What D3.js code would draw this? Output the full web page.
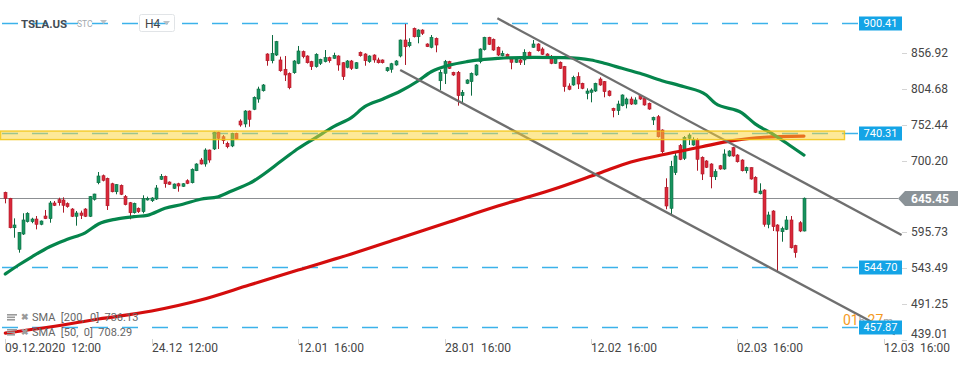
<!DOCTYPE html>
<html>
<head>
<meta charset="utf-8">
<script src="https://cdn.jsdelivr.net/npm/d3@7"></script>
<style>
  body { margin: 0; background: #fff; }
  svg { display: block; font-family: Roboto, "Noto Sans", sans-serif; }
  .axis-label { white-space: pre; }
</style>
</head>
<body>
<svg id="chart" width="970" height="365"></svg>
<script>
// H4 candles, TSLA.US, index 0 = 09.12.2020 12:00
var opens = [654.1,645.3,602.4,570.9,593.2,611.2,611.2,615.1,607.4,619.5,615.6,638.5,643.3,642.9,637.5,629.7,619.1,623.9,629.7,619.1,
  643.8,668.1,678.3,674.5,666.6,654.9,664.3,647.7,638.9,624.3,630.8,625.8,642.9,641.8,644.3,673.1,677.4,669.1,659.9,666.6,
  662.8,671.0,668.1,685.6,701.2,695.4,715.8,717.3,741.6,735.2,725.6,721.7,740.2,758.1,753.8,772.7,775.2,790.2,802.3,855.9,
  846.1,854.4,847.2,833.6,827.7,828.6,842.3,859.3,853.0,844.7,837.4,842.3,844.7,850.5,849.6,853.0,843.2,836.5,845.7,835.0,
  858.4,855.9,844.7,854.4,847.2,847.2,831.5,833.6,839.9,853.0,876.3,868.0,893.4,881.1,890.9,870.5,865.7,878.8,816.9,827.7,
  844.7,829.2,829.2,795.1,813.1,815.5,825.3,844.7,862.2,880.3,877.4,865.7,853.4,855.5,849.6,843.8,847.2,847.2,858.4,865.7,
  870.5,863.2,855.9,852.0,842.3,843.8,837.4,809.2,810.7,822.8,813.1,798.5,800.0,801.9,819.4,815.5,801.9,776.6,773.2,780.5,
  782.9,790.2,782.9,795.1,791.3,784.0,759.6,764.4,745.0,661.4,630.7,682.7,722.1,703.7,732.9,723.1,730.4,705.2,699.8,695.4,
  676.8,692.9,688.1,707.1,719.2,708.5,701.2,685.6,690.0,676.0,652.0,657.4,607.4,626.8,606.4,596.6,600.1,613.7,576.2,609.7,
  597.6];
var highs = [655.0,646.0,616.1,596.0,623.5,625.0,617.0,619.5,613.0,628.3,641.4,641.4,646.2,646.8,639.4,631.0,626.8,627.3,631.0,648.7,
  652.0,683.7,680.0,675.5,668.0,666.0,665.5,650.1,640.0,639.0,632.0,649.7,647.7,647.0,664.7,680.8,678.5,670.0,667.0,668.0,
  667.5,673.1,689.0,696.5,704.1,718.3,716.5,742.5,742.5,737.7,728.0,741.0,741.0,760.6,774.0,773.5,794.0,808.2,812.1,857.0,
  883.6,875.0,852.0,853.0,829.0,847.0,867.6,861.0,854.0,846.0,857.0,849.0,861.7,852.0,857.8,854.0,844.0,847.0,847.2,844.0,
  859.5,857.0,854.0,855.5,850.5,848.0,837.0,843.0,847.0,877.0,899.7,878.8,894.5,892.0,892.0,871.5,883.6,880.0,832.6,847.2,
  846.0,830.0,831.1,803.4,819.0,829.0,841.0,864.2,881.0,881.0,878.5,867.0,860.7,856.5,851.0,849.0,849.6,862.8,859.5,876.3,
  871.5,865.7,857.0,854.4,850.5,845.0,838.5,813.1,824.2,829.2,814.0,805.8,805.8,814.0,821.9,816.5,803.0,777.5,787.8,797.0,
  792.4,793.6,792.7,796.1,792.5,785.0,764.5,766.9,746.0,674.5,700.0,713.3,724.6,736.2,740.2,734.3,732.9,706.5,701.0,696.5,
  687.7,694.0,716.8,715.5,720.5,709.7,702.3,691.5,690.6,677.5,667.2,658.5,625.8,628.0,607.5,603.9,619.5,619.5,577.5,612.0,
  646.5];
var lows = [638.0,601.5,587.8,566.0,591.8,610.0,609.0,600.0,606.0,615.0,609.7,634.0,634.6,624.4,631.6,618.0,605.4,615.1,618.0,618.0,
  642.0,665.8,670.0,628.3,654.0,651.2,650.0,635.0,614.7,623.0,624.0,623.4,642.0,640.0,643.0,672.0,660.8,665.0,659.0,655.0,
  662.0,666.0,667.0,685.0,694.6,691.5,697.3,715.8,717.3,724.6,718.3,720.0,731.0,749.8,748.9,749.8,774.0,784.8,801.0,838.8,
  842.3,853.0,830.0,816.5,804.4,827.0,841.0,849.6,842.0,832.6,836.0,839.8,843.6,843.2,849.0,831.5,818.0,835.0,832.6,834.0,
  852.0,838.8,843.0,843.2,842.0,842.0,830.0,828.6,838.8,851.0,839.9,865.7,880.0,871.5,883.6,866.0,864.2,858.4,803.4,812.1,
  834.0,824.0,780.5,784.0,812.0,795.1,824.0,842.3,861.0,869.0,860.5,853.0,852.5,848.5,833.6,843.0,839.9,839.9,849.5,865.0,
  859.5,854.5,850.0,841.0,841.5,834.0,800.9,803.0,809.5,804.8,804.5,789.8,785.4,800.5,809.5,792.7,794.0,763.5,766.9,779.5,
  776.6,781.5,782.0,789.0,780.5,774.5,752.3,734.0,711.0,629.3,622.0,679.3,701.0,701.2,723.1,722.0,685.6,672.0,689.5,659.9,
  672.0,687.0,687.0,706.0,706.0,697.5,684.5,681.8,672.5,653.0,651.0,603.9,601.6,597.6,539.3,582.0,599.0,572.0,558.7,596.0,
  597.0];
var closes = [645.3,602.4,606.4,595.7,613.7,623.5,615.1,607.4,612.2,615.6,638.5,635.1,638.9,635.1,633.1,619.1,623.9,620.5,619.1,647.7,
  651.6,677.9,671.6,634.5,654.9,665.2,651.2,636.0,624.3,638.0,625.8,644.8,645.3,645.8,660.4,677.4,666.6,665.8,666.2,663.3,
  666.6,667.2,687.7,695.4,695.4,715.8,701.2,741.6,732.9,729.4,720.6,740.2,731.9,752.3,772.7,760.6,792.7,804.8,810.7,846.1,
  856.9,873.9,831.5,825.3,806.7,845.7,860.3,852.0,843.2,837.4,855.5,848.2,850.5,846.1,854.0,839.9,822.8,845.7,835.0,843.2,
  853.4,846.1,853.0,847.2,843.2,843.2,835.9,841.7,845.7,876.3,866.5,873.0,881.1,890.9,886.1,866.6,880.3,869.0,829.2,844.7,
  835.0,825.3,795.1,800.0,818.0,827.7,839.9,863.2,880.3,870.0,861.7,854.4,856.9,849.6,843.8,848.2,843.8,858.4,850.5,870.5,
  860.7,855.5,851.1,842.3,849.6,835.0,808.2,804.4,821.9,812.1,805.8,801.9,803.4,813.1,810.7,800.9,795.1,773.2,782.9,796.1,
  790.2,782.9,788.8,790.2,781.5,775.6,763.5,735.2,713.3,634.1,692.0,707.1,702.2,734.3,737.7,731.4,702.2,680.8,690.6,676.8,
  684.2,688.1,710.0,714.3,707.1,698.7,685.6,690.0,673.5,654.1,655.9,607.4,621.0,603.9,597.6,601.0,613.7,573.2,566.0,597.6,
  645.45];

// moving averages: [candle index, value]
var sma50 = [[0,534.9],[3,548],[6,560],[10,574.7],[14,585.5],[18,595],[21,607.8],[25,615],[29,618.5],[32,620.5],
  [36,630.7],[40,636.6],[44,644],[48,647.7],[51,656],[55,667],[63,703.7],[66,718],[70,734],[74,750],[78,763],
  [81,779],[85,790],[89,801.5],[93,816.5],[96,830],[100,839.4],[104,844.7],[108,848],[111,849.6],[119,851],
  [126,850.5],[132,847.2],[135,842.3],[139,835],[143,827.7],[148,817],[153,808],[158,796],[160,784],[166,770],
  [169,754],[173,739],[177,721.7],[180,708.29]];
var sma200 = [[0,448.7],[10,457.5],[21,469.2],[33,480.9],[44,496.9],[55,518.8],[66,540.7],[78,564.1],[89,587.4],
  [100,610.8],[111,634.1],[123,657.4],[134,682.3],[141,698.3],[149,710],[157,720.6],[164,729.4],[171,734.4],[180,736.13]];

// channel trendlines: two anchors each [index, price]
var channelUpper = [[110.9, 908.0], [202.0, 591.8]];
var channelLower = [[89.0, 832.6], [200.5, 446.9]];

var levels = [900.41, 740.31, 544.70, 457.87];
var zone = [731.0, 743.5];
var lastPrice = 645.45;

var priceTicks = [856.92, 804.68, 752.44, 700.20, 595.73, 543.49, 491.25, 439.01];
var timeTicks = [0, 33, 66, 99, 132, 165, 198];
var timeLabels = ["09.12.2020  12:00", "24.12  12:00", "12.01  16:00", "28.01  16:00",
  "12.02  16:00", "02.03  16:00", "12.03  16:00"];

var svg = d3.select("#chart");

var x = d3.scaleLinear().domain([0, 200]).range([5.3, 892.7]);
var y = d3.scaleLinear().domain([439.01, 856.92]).range([339.7, 53.3]);

var BLUE = "#14a4e6";
var UP = "#17935e", UP_DARK = "#0c6b41";
var DOWN = "#d9283a", DOWN_DARK = "#ad1827";

// dashed levels
svg.append("g").selectAll("line")
  .data(levels)
  .enter()
  .append("line")
  .attr("x1", 2).attr("x2", 858)
  .attr("y1", function(d) { return Math.round(y(d)) + 0.5; })
  .attr("y2", function(d) { return Math.round(y(d)) + 0.5; })
  .attr("stroke", "#3cb2ea")
  .attr("stroke-width", 1.6)
  .attr("stroke-dasharray", "16,14");

// last price line
svg.append("line")
  .attr("x1", 0).attr("x2", 898)
  .attr("y1", Math.round(y(lastPrice)) + 0.5)
  .attr("y2", Math.round(y(lastPrice)) + 0.5)
  .attr("stroke", "#8c8f92")
  .attr("stroke-width", 1);

// candles
var candles = d3.range(opens.length).map(function(i) {
  return { i: i, o: opens[i], h: highs[i], l: lows[i], c: closes[i] };
});

var cg = svg.append("g").attr("class", "candles");
cg.selectAll("line")
  .data(candles)
  .enter()
  .append("line")
  .attr("x1", function(d) { return Math.round(x(d.i)) + 0.5; })
  .attr("x2", function(d) { return Math.round(x(d.i)) + 0.5; })
  .attr("y1", function(d) { return y(d.h); })
  .attr("y2", function(d) { return y(d.l); })
  .attr("stroke", function(d) { return d.c >= d.o ? UP_DARK : DOWN_DARK; })
  .attr("stroke-width", 1);

cg.selectAll("rect")
  .data(candles)
  .enter()
  .append("rect")
  .attr("x", function(d) { return Math.round(x(d.i)) - 1; })
  .attr("width", 3)
  .attr("y", function(d) { return y(Math.max(d.o, d.c)); })
  .attr("height", function(d) { return Math.max(1, Math.abs(y(d.o) - y(d.c))); })
  .attr("fill", function(d) { return d.c >= d.o ? UP : DOWN; })
  .attr("stroke", function(d) { return d.c >= d.o ? UP_DARK : DOWN_DARK; })
  .attr("stroke-width", 0.6);

// moving averages
var maLine = d3.line()
  .x(function(d) { return x(d[0]); })
  .y(function(d) { return y(d[1]); })
  .curve(d3.curveMonotoneX);

svg.append("path")
  .attr("d", maLine(sma200))
  .attr("fill", "none")
  .attr("stroke", "#d40d0d")
  .attr("stroke-width", 3.2)
  .attr("stroke-linecap", "round");

svg.append("path")
  .attr("d", maLine(sma50))
  .attr("fill", "none")
  .attr("stroke", "#05854c")
  .attr("stroke-width", 3.2)
  .attr("stroke-linecap", "round");

// trend channel
[channelUpper, channelLower].forEach(function(seg) {
  svg.append("line")
    .attr("x1", x(seg[0][0])).attr("y1", y(seg[0][1]))
    .attr("x2", x(seg[1][0])).attr("y2", y(seg[1][1]))
    .attr("stroke", "#6f6f6f")
    .attr("stroke-width", 2.4);
});

// resistance zone, drawn on top, semi transparent
svg.append("rect")
  .attr("x", 0.5)
  .attr("width", 844)
  .attr("y", y(zone[1]))
  .attr("height", y(zone[0]) - y(zone[1]))
  .attr("fill", "rgba(251,212,50,0.5)")
  .attr("stroke", "rgba(242,196,18,0.85)")
  .attr("stroke-width", 1.4);

// countdown (partly hidden behind the level label)
var timer = svg.append("text")
  .attr("x", 843).attr("y", 325)
  .attr("font-size", 14)
  .attr("fill", "#f49a1e");
timer.append("tspan").text("01");
timer.append("tspan").attr("font-size", 11).attr("fill", "#a0a0a0").text("h ");
timer.append("tspan").text("27");
timer.append("tspan").attr("font-size", 11).attr("fill", "#a0a0a0").text("m");

// level labels
var lv = svg.append("g").selectAll("g")
  .data(levels)
  .enter()
  .append("g")
  .attr("transform", function(d) { return "translate(859," + (Math.round(y(d)) + 0.5) + ")"; });
lv.append("rect")
  .attr("x", 0).attr("y", -7)
  .attr("width", 43).attr("height", 14)
  .attr("fill", BLUE);
lv.append("text")
  .attr("x", 21.5).attr("dy", "0.36em")
  .attr("text-anchor", "middle")
  .attr("font-size", 11)
  .attr("fill", "#fff")
  .text(function(d) { return d.toFixed(2); });

// right price axis
var pa = svg.append("g").selectAll("g")
  .data(priceTicks)
  .enter()
  .append("g")
  .attr("transform", function(d) { return "translate(0," + Math.round(y(d)) + ")"; });
pa.append("line")
  .attr("x1", 902).attr("x2", 907)
  .attr("y1", 0.5).attr("y2", 0.5)
  .attr("stroke", "#d4d4d4");
pa.append("text")
  .attr("x", 911)
  .attr("y", function(d) { return Math.min(0, 334 - Math.round(y(d))); })
  .attr("dy", "0.36em")
  .attr("font-size", 12)
  .attr("fill", "#454545")
  .text(function(d) { return d.toFixed(2); });

// last price tag
var ly = Math.round(y(lastPrice)) + 0.5;
svg.append("path")
  .attr("d", "M898," + ly + " L905," + (ly - 7.5) + " L958," + (ly - 7.5) +
             " L958," + (ly + 7.5) + " L905," + (ly + 7.5) + " Z")
  .attr("fill", "#8a9297");
svg.append("text")
  .attr("x", 911).attr("y", ly).attr("dy", "0.36em")
  .attr("font-size", 12)
  .attr("font-weight", "bold")
  .attr("fill", "#fff")
  .text(lastPrice.toFixed(2));

// time axis
var ta = svg.append("g").selectAll("g")
  .data(timeTicks)
  .enter()
  .append("g")
  .attr("transform", function(d) { return "translate(" + Math.round(x(d)) + ",0)"; });
ta.append("line")
  .attr("x1", 0.5).attr("x2", 0.5)
  .attr("y1", 339).attr("y2", 344)
  .attr("stroke", "#d4d4d4");
ta.append("text")
  .attr("class", "axis-label")
  .attr("x", 0).attr("y", 352)
  .attr("font-size", 12)
  .attr("fill", "#454545")
  .text(function(d, i) { return timeLabels[i]; });

// indicator legend
var legendRows = [["SMA  [200,  0]  ", sma200[sma200.length - 1][1]],
                  ["SMA  [50,  0]  ", sma50[sma50.length - 1][1]]];
var lg = svg.append("g").selectAll("g")
  .data(legendRows)
  .enter()
  .append("g")
  .attr("transform", function(d, i) { return "translate(0," + (317 + i * 15) + ")"; });
[-3, -0.5, 2].forEach(function(dy, k) {
  lg.append("rect")
    .attr("x", 7).attr("y", dy)
    .attr("width", k === 0 ? 10 : 8).attr("height", 1.6)
    .attr("fill", "#9a9a9a");
});
lg.append("text")
  .attr("x", 21).attr("dy", "0.36em")
  .attr("font-size", 9)
  .attr("font-weight", "bold")
  .attr("fill", "#9a9a9a")
  .text("\u2716");
lg.append("text")
  .attr("class", "axis-label")
  .attr("x", 32).attr("dy", "0.36em")
  .attr("font-size", 11)
  .attr("fill", "#666")
  .text(function(d) { return d[0] + d[1].toFixed(2); });

// header
svg.append("text")
  .attr("x", 21).attr("y", 28)
  .attr("font-size", 11.5)
  .attr("font-weight", "bold")
  .attr("fill", "#434b54")
  .text("TSLA.US");
svg.append("text")
  .attr("x", 77).attr("y", 27)
  .attr("font-size", 8.5)
  .attr("fill", "#a3a9ae")
  .text("STC");
svg.append("path")
  .attr("d", "M100,20 L107,20 L103.5,24 Z")
  .attr("fill", "#bcc1c5");
svg.append("rect")
  .attr("x", 139.5).attr("y", 14.5)
  .attr("width", 35).attr("height", 17)
  .attr("rx", 2)
  .attr("fill", "none")
  .attr("stroke", "#e1e4e7");
svg.append("text")
  .attr("x", 145).attr("y", 27.5)
  .attr("font-size", 12)
  .attr("fill", "#454545")
  .text("H4");
svg.append("path")
  .attr("d", "M163,21 L170,21 L166.5,25 Z")
  .attr("fill", "#bcc1c5");
</script>
</body>
</html>
